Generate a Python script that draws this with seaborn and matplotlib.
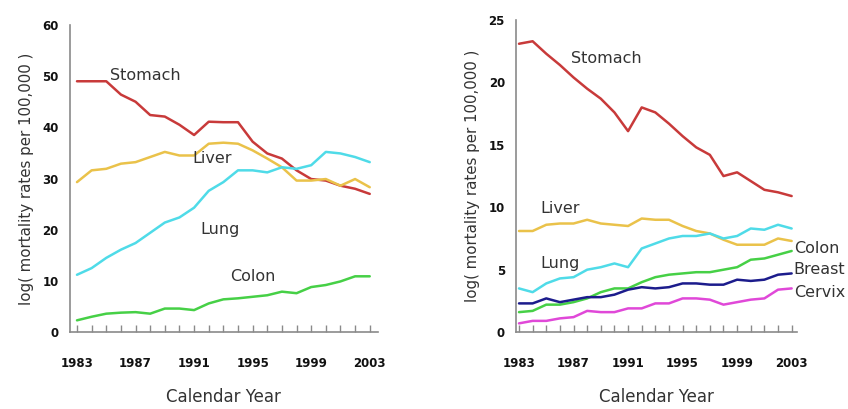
import numpy as np
import pandas as pd
import matplotlib
matplotlib.use("Agg")
import matplotlib.pyplot as plt
import seaborn as sns

years = list(range(1983, 2004))

# left panel
stomach_l = [49, 49, 49, 46.4, 45, 42.4, 42.1, 40.5, 38.5, 41.1, 41, 41, 37.2, 34.9, 33.9, 31.6, 29.9, 29.6, 28.6, 28, 27]
liver_l = [29.3, 31.6, 31.9, 32.9, 33.2, 34.2, 35.2, 34.5, 34.5, 36.8, 37, 36.8, 35.5, 33.9, 32.2, 29.6, 29.6, 29.9, 28.6, 29.9, 28.3]
lung_l = [11.2, 12.5, 14.5, 16.1, 17.4, 19.4, 21.4, 22.4, 24.3, 27.6, 29.3, 31.6, 31.6, 31.2, 32.2, 31.9, 32.6, 35.2, 34.9, 34.2, 33.2]
colon_l = [2.3, 3.0, 3.6, 3.8, 3.9, 3.6, 4.6, 4.6, 4.3, 5.6, 6.4, 6.6, 6.9, 7.2, 7.9, 7.6, 8.8, 9.2, 9.9, 10.9, 10.9]

# right panel
stomach_r = [23.1, 23.3, 22.3, 21.4, 20.4, 19.5, 18.7, 17.6, 16.1, 18.0, 17.6, 16.7, 15.7, 14.8, 14.2, 12.5, 12.8, 12.1, 11.4, 11.2, 10.9]
liver_r = [8.1, 8.1, 8.6, 8.7, 8.7, 9.0, 8.7, 8.6, 8.5, 9.1, 9.0, 9.0, 8.5, 8.1, 7.9, 7.4, 7.0, 7.0, 7.0, 7.5, 7.3]
lung_r = [3.5, 3.2, 3.9, 4.3, 4.4, 5.0, 5.2, 5.5, 5.2, 6.7, 7.1, 7.5, 7.7, 7.7, 7.9, 7.5, 7.7, 8.3, 8.2, 8.6, 8.3]
colon_r = [1.6, 1.7, 2.2, 2.2, 2.4, 2.7, 3.2, 3.5, 3.5, 4.0, 4.4, 4.6, 4.7, 4.8, 4.8, 5.0, 5.2, 5.8, 5.9, 6.2, 6.5]
breast_r = [2.3, 2.3, 2.7, 2.4, 2.6, 2.8, 2.8, 3.0, 3.4, 3.6, 3.5, 3.6, 3.9, 3.9, 3.8, 3.8, 4.2, 4.1, 4.2, 4.6, 4.7]
cervix_r = [0.7, 0.9, 0.9, 1.1, 1.2, 1.7, 1.6, 1.6, 1.9, 1.9, 2.3, 2.3, 2.7, 2.7, 2.6, 2.2, 2.4, 2.6, 2.7, 3.4, 3.5]

year_ticks = [1983, 1987, 1991, 1995, 1999, 2003]

colors = {"Stomach": "#c83a3a", "Liver": "#eac24a", "Lung": "#4fdbe8",
          "Colon": "#46d046", "Breast": "#1c1c8c", "Cervix": "#e048d8"}

sns.set_style("white")
plt.rcParams['font.family'] = ['DejaVu Sans']


def long_form(series):
    rows = []
    for name, vals in series.items():
        for y, v in zip(years, vals):
            rows.append({"year": y, "rate": v, "site": name})
    return pd.DataFrame(rows)


left = long_form({"Stomach": stomach_l, "Liver": liver_l, "Lung": lung_l, "Colon": colon_l})
right = long_form({"Stomach": stomach_r, "Liver": liver_r, "Lung": lung_r,
                   "Colon": colon_r, "Breast": breast_r, "Cervix": cervix_r})

fig = plt.figure(figsize=(8.48, 4.09), dpi=100)
ax1 = fig.add_axes([0.0825, 0.188, 0.363, 0.751])
ax2 = fig.add_axes([0.6085, 0.188, 0.331, 0.763])


def style(ax, ymax, ystep, xlim):
    ax.set_xlim(*xlim)
    ax.set_ylim(0, ymax)
    ax.set_xticks(year_ticks)
    ax.set_xticks(years, minor=True)
    ax.set_yticks(np.arange(0, ymax + 1, ystep))
    for s in ["top", "right"]:
        ax.spines[s].set_visible(False)
    for s in ["left", "bottom"]:
        ax.spines[s].set_color("#8a8a8a")
        ax.spines[s].set_linewidth(1.2)
    ax.tick_params(axis="x", which="both", bottom=True, direction="in", length=5,
                   width=1, color="#8a8a8a", pad=18)
    ax.tick_params(axis="y", left=False, length=0, pad=8)
    for lab in ax.get_xticklabels() + ax.get_yticklabels():
        lab.set_fontweight("bold")
        lab.set_fontsize(8.5)
        lab.set_color("#111111")
    ax.set_xlabel("Calendar Year", fontsize=12, color="#333333", labelpad=13)
    ax.set_ylabel("log( mortality rates per 100,000 )", fontsize=10.8, color="#333333", labelpad=6)
    if ax.get_legend():
        ax.get_legend().remove()


sns.lineplot(data=left, x="year", y="rate", hue="site", palette=colors, linewidth=1.8, ax=ax1)
sns.lineplot(data=right, x="year", y="rate", hue="site", palette=colors, linewidth=1.8, ax=ax2)

style(ax1, 60, 10, (1982.52, 2003.55))
style(ax2, 25, 5, (1982.78, 2003.37))

lab_kw = dict(fontsize=11.5, color="#333333", va="center", ha="left")
ax1.text(1985.25, 50.1, "Stomach", **lab_kw)
ax1.text(1990.85, 33.9, "Liver", **lab_kw)
ax1.text(1991.4, 20.1, "Lung", **lab_kw)
ax1.text(1993.45, 10.9, "Colon", **lab_kw)

ax2.text(1986.8, 21.9, "Stomach", **lab_kw)
ax2.text(1984.6, 9.9, "Liver", **lab_kw)
ax2.text(1984.6, 5.5, "Lung", **lab_kw)
r_kw = dict(lab_kw, clip_on=False)
ax2.text(2003.15, 6.7, "Colon", **r_kw)
ax2.text(2003.15, 5.0, "Breast", **r_kw)
ax2.text(2003.15, 3.2, "Cervix", **r_kw)

fig.savefig("out.png", dpi=100)
